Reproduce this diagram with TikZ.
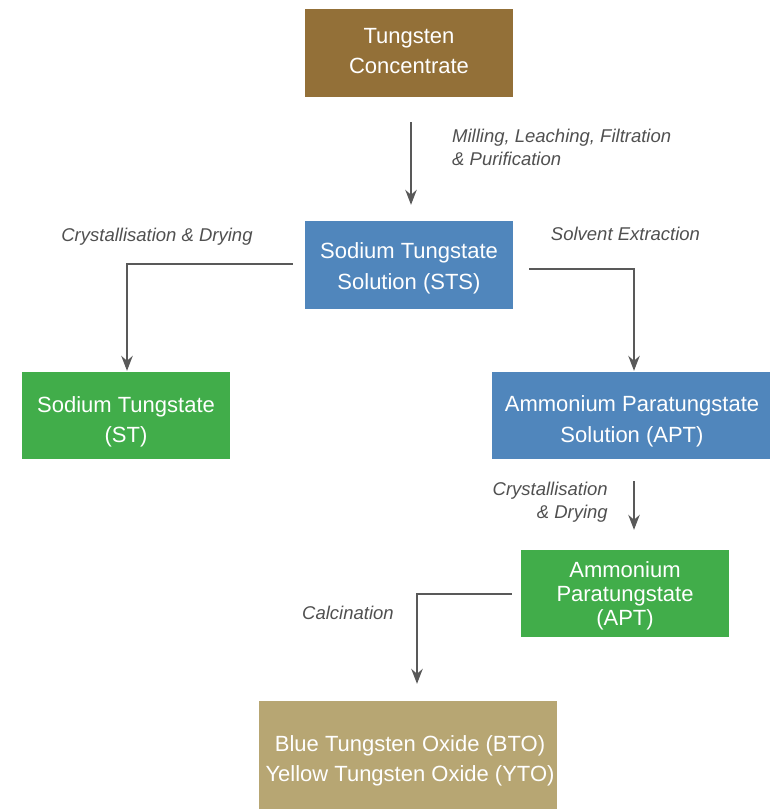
\documentclass[tikz,border=0pt]{standalone}
\usepackage{fontspec}
\setmainfont{Liberation Sans}
\usetikzlibrary{arrows.meta}

\definecolor{conc}{HTML}{937038}
\definecolor{soln}{HTML}{5086BC}
\definecolor{prod}{HTML}{41AD4A}
\definecolor{oxide}{HTML}{B7A673}
\definecolor{linegray}{HTML}{595959}
\definecolor{labelgray}{HTML}{505050}

\tikzset{
  procbox/.style={rectangle, draw=none, inner sep=0pt},
  boxtext/.style={anchor=base, inner sep=0pt, text=white, align=center,
    font=\fontsize{22}{30}\selectfont},
  flow/.style={draw=linegray, line width=1.2pt,
    -{Stealth[length=15pt, width=11.5pt, inset=5pt]}},
  steplabel/.style={text=labelgray, inner sep=0pt,
    font=\fontsize{18.5}{23}\selectfont\itshape}
}

\begin{document}
\begin{tikzpicture}[x=1pt, y=-1pt]
  \path[use as bounding box, clip] (0,0) rectangle (770,809);

  % process boxes
  \node[procbox, fill=conc, minimum width=208pt, minimum height=88pt]
    (tc) at (409,53) {};
  \node[procbox, fill=soln, minimum width=208pt, minimum height=88pt]
    (sts) at (409,265) {};
  \node[procbox, fill=prod, minimum width=208pt, minimum height=87pt]
    (st) at (126,415.5) {};
  \node[procbox, fill=soln, minimum width=278pt, minimum height=87pt]
    (apts) at (631,415.5) {};
  \node[procbox, fill=prod, minimum width=208pt, minimum height=87pt]
    (apt) at (625,593.5) {};
  \node[procbox, fill=oxide, minimum width=298pt, minimum height=118pt]
    (bto) at (408,760) {};

  % box texts, placed on the baseline of their last line
  \node[boxtext] (tct) at (409,73) {Tungsten\\Concentrate};
  \node[boxtext, font=\fontsize{22}{31}\selectfont] (stst) at (409,289)
    {Sodium Tungstate\\Solution (STS)};
  \node[boxtext] (stt) at (126,442) {Sodium Tungstate\\(ST)};
  \node[boxtext, font=\fontsize{22}{31}\selectfont] (aptst) at (632,442)
    {Ammonium Paratungstate\\Solution (APT)};
  \node[boxtext, font=\fontsize{22}{24}\selectfont] (aptt) at (625,625)
    {Ammonium\\Paratungstate\\(APT)};
  \node[boxtext] (btot) at (410,781)
    {Blue Tungsten Oxide (BTO)\\Yellow Tungsten Oxide (YTO)};

  % connectors
  \draw[flow, shorten <=25pt, shorten >=16pt]
    ([xshift=2pt]tc.south) -- ([xshift=2pt]sts.north);
  \draw[flow, shorten <=12pt, shorten >=1pt]
    ([yshift=1pt]sts.west) -| ([xshift=1pt]st.north);
  \draw[flow, shorten <=16pt, shorten >=1pt]
    ([yshift=-4pt]sts.east) -| ([xshift=3pt]apts.north);
  \draw[flow, shorten <=22pt, shorten >=20pt]
    ([xshift=3pt]apts.south) -- ([xshift=3pt]apts.south |- apt.north);
  \draw[flow, shorten <=9pt, shorten >=17pt]
    ([yshift=-0.5pt]apt.west) -| ([xshift=9pt]bto.north);

  % process step labels, placed on the baseline of their last line
  \node[steplabel, anchor=base west, align=left] (l1) at (452,165)
    {Milling, Leaching, Filtration\\\& Purification};
  \node[steplabel, anchor=base] (l2) at (157,241) {Crystallisation \& Drying};
  \node[steplabel, anchor=base] (l3) at (625.5,240.7) {Solvent Extraction};
  \node[steplabel, anchor=base east, align=right] (l4) at (608,518)
    {Crystallisation\\\& Drying};
  \node[steplabel, anchor=base] (l5) at (348,619.3) {Calcination};
\end{tikzpicture}
\end{document}
